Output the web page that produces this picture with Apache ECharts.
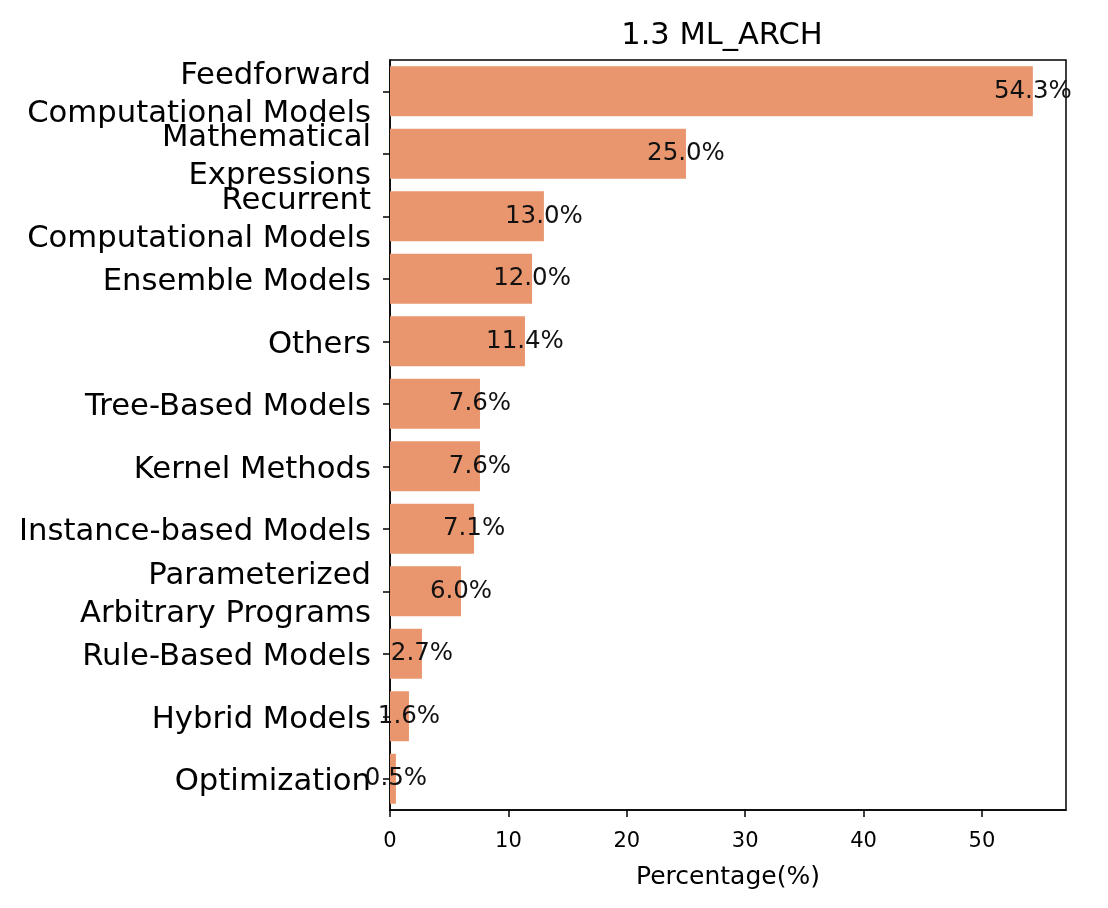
<!DOCTYPE html>
<html>
<head>
<meta charset="utf-8">
<script src="https://cdn.jsdelivr.net/npm/echarts@6/dist/echarts.min.js"></script>
<style>html,body{margin:0;padding:0;background:#fff}#c{width:1108px;height:908px}</style>
</head>
<body>
<div id="c"></div>
<script>
const categories = [
  "Feedforward\nComputational Models",
  "Mathematical\nExpressions",
  "Recurrent\nComputational Models",
  "Ensemble Models",
  "Others",
  "Tree-Based Models",
  "Kernel Methods",
  "Instance-based Models",
  "Parameterized\nArbitrary Programs",
  "Rule-Based Models",
  "Hybrid Models",
  "Optimization"
];
const percentages = [54.3, 25.0, 13.0, 12.0, 11.4, 7.6, 7.6, 7.1, 6.0, 2.7, 1.6, 0.5];
const xTicks = [0, 10, 20, 30, 40, 50];
const titleText = "1.3 ML_ARCH";
const xAxisName = "Percentage(%)";

const FONT = "DejaVu Sans";
const chart = echarts.init(document.getElementById('c'), null, {renderer: 'canvas'});
chart.setOption({
  animation: false,
  backgroundColor: '#ffffff',
  title: {
    text: titleText,
    left: 717, textAlign: 'center', top: 16,
    textStyle: {fontFamily: FONT, fontSize: 30.5, fontWeight: 'normal', color: '#000'}
  },
  grid: {
    left: 390, right: 42, top: 60, bottom: 98,
    show: true, borderColor: '#000', borderWidth: 1.5, backgroundColor: 'transparent'
  },
  xAxis: {
    type: 'value', min: 0, max: 57.1, interval: 10,
    name: xAxisName, nameLocation: 'middle', nameGap: 55,
    nameTextStyle: {fontFamily: FONT, fontSize: 25, color: '#000'},
    axisLine: {show: true, lineStyle: {color: '#000', width: 1.5}},
    axisTick: {show: true, length: 7, lineStyle: {color: '#000', width: 1.5}, customValues: xTicks},
    axisLabel: {fontFamily: FONT, fontSize: 21, color: '#000', margin: 21, customValues: xTicks},
    splitLine: {show: false}
  },
  yAxis: {
    type: 'category', data: categories, inverse: true,
    axisLine: {show: true, lineStyle: {color: '#000', width: 1.5}},
    axisTick: {show: true, alignWithLabel: true, length: 7, lineStyle: {color: '#000', width: 1.5}},
    axisLabel: {
      fontFamily: FONT, fontSize: 30.7, color: '#000', margin: 19, align: 'right',
      interval: 0, showMinLabel: true, showMaxLabel: true, hideOverlap: false,
      formatter: v => v.split('\n').map(s => '{a|' + s + '}').join('\n'),
      rich: {a: {fontFamily: FONT, fontSize: 30.7, color: '#000', lineHeight: 38, padding: [7, 0, 0, 0]}}
    },
    splitLine: {show: false}
  },
  series: [{
    type: 'bar',
    data: percentages,
    barCategoryGap: '20%',
    itemStyle: {color: '#E9966F'},
    label: {
      show: true,
      position: ['100%', '50%'],
      align: 'center', verticalAlign: 'middle',
      fontFamily: FONT, fontSize: 24.5, color: '#111',
      formatter: p => p.value.toFixed(1) + '%'
    }
  }]
});
</script>
</body>
</html>
